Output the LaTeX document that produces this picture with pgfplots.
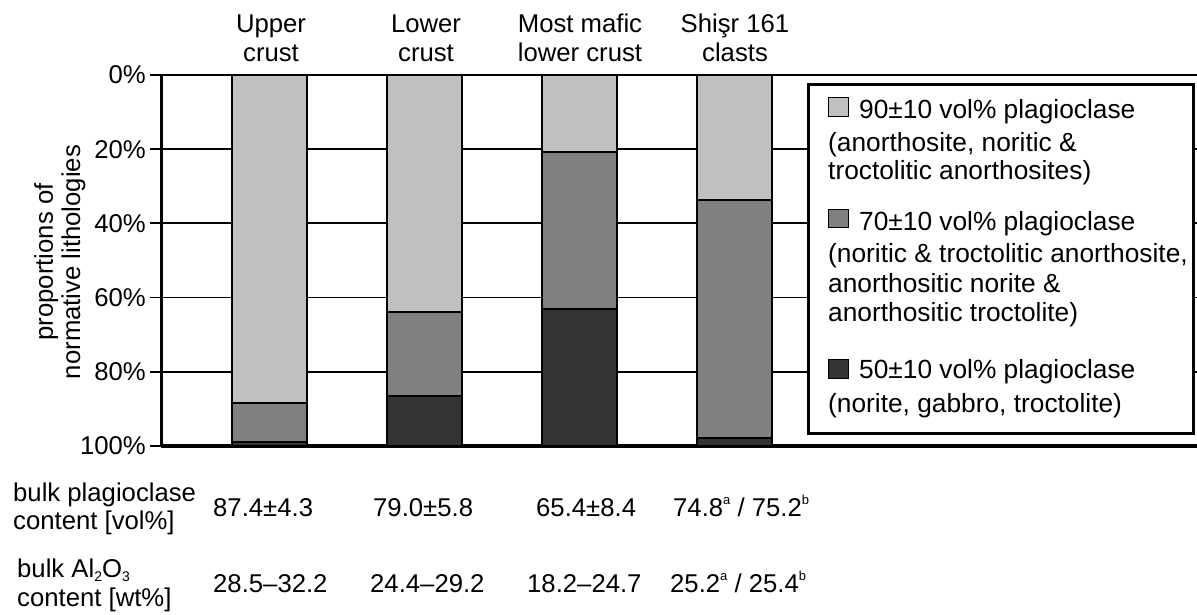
\documentclass[border=0pt]{standalone}
\usepackage{pgfplots}
\pgfplotsset{compat=1.18}
\usepackage{fontspec}
\setmainfont{Liberation Sans}
\definecolor{lightg}{RGB}{192,192,192}
\definecolor{midg}{RGB}{128,128,128}
\definecolor{darkg}{RGB}{51,51,51}
\newcommand\fs{\fontsize{25.7}{29}\selectfont}
\newcommand\fl{\fontsize{26.3}{30}\selectfont}
\newcommand\sps[1]{\raisebox{12pt}{\fontsize{13}{13}\selectfont #1}}
\newcommand\sbs[1]{\raisebox{-4pt}{\fontsize{14}{14}\selectfont #1}}
\begin{document}
\begin{tikzpicture}[x=1pt,y=1pt]
\begin{axis}[
  at={(161pt,169pt)}, anchor=south west,
  scale only axis, width=1036pt, height=371pt,
  xmin=-0.703, xmax=5.981, ymin=0, ymax=100, y dir=reverse,
  ybar stacked, bar width=75pt,
  xtick=\empty, ytick={0,20,...,100}, ytick pos=left,
  yticklabel={\pgfmathprintnumber[assume math mode=true]{\tick}\%},
  yticklabel style={font=\fs, inner sep=0pt, xshift=-4pt},
  tick align=outside, major tick length=11pt,
  every tick/.style={black, line width=1.8pt},
  ymajorgrids, major grid style={black, line width=1.8pt},
  axis line style={draw=none},
  clip=false,
]
\addplot[fill=lightg, draw=black, line width=2pt] coordinates {(0,88.5) (1,63.8) (2,20.8) (3,33.7)};
\addplot[fill=midg, draw=black, line width=2pt] coordinates {(0,10.5) (1,22.7) (2,42.2) (3,64.2)};
\addplot[fill=darkg, draw=black, line width=2pt] coordinates {(0,1.0) (1,13.5) (2,37.0) (3,2.1)};
\draw[line width=3pt] (axis cs:-0.703,-0.3) -- (axis cs:-0.703,100.4);
\draw[line width=3.2pt] (axis cs:-0.703,100) -- (axis cs:5.981,100);
\end{axis}
% y label
\node[rotate=90, anchor=base, inner sep=0pt, font=\fs] at (53,353) {proportions of};
\node[rotate=90, anchor=base, inner sep=0pt, font=\fs] at (80,353) {normative lithologies};
% top labels
\begin{scope}[every node/.style={anchor=base, inner sep=0pt, font=\fs}]
\node at (271,582) {Upper};
\node at (271,553) {crust};
\node at (426,582) {Lower};
\node at (426,553) {crust};
\node at (580,582) {Most mafic};
\node at (580,553) {lower crust};
\node at (735,582) {Shişr 161};
\node at (735,553) {clasts};
\end{scope}
% legend
\draw[line width=3pt, fill=white] (808,530) rectangle (1193,181);
\draw[line width=1pt, fill=lightg] (828,498) rectangle (848,517);
\draw[line width=1pt, fill=midg] (828,387) rectangle (848,405);
\draw[line width=1pt, fill=darkg] (828,236) rectangle (848,255);
\begin{scope}[every node/.style={anchor=base west, inner sep=0pt, font=\fl}]
\node at (859,496) {90±10 vol\% plagioclase};
\node at (828,463) {(anorthosite, noritic \&};
\node at (828,435) {troctolitic anorthosites)};
\node at (859,384) {70±10 vol\% plagioclase};
\node at (828,352) {(noritic \& troctolitic anorthosite,};
\node at (828,322) {anorthositic norite \&};
\node at (828,293) {anorthositic troctolite)};
\node at (859,236) {50±10 vol\% plagioclase};
\node at (828,202) {(norite, gabbro, troctolite)};
\end{scope}
% bottom rows
\begin{scope}[every node/.style={anchor=base west, inner sep=0pt, font=\fs}]
\node at (13,113) {bulk plagioclase};
\node at (13,85) {content [vol\%]};
\node at (213,98) {87.4±4.3};
\node at (373,98) {79.0±5.8};
\node at (536,98) {65.4±8.4};
\node at (673,98) {74.8\sps{a} / 75.2\sps{b}};
\node at (17,37) {bulk Al\sbs{2}O\sbs{3}};
\node at (17,8) {content [wt\%]};
\node at (213,22) {28.5--32.2};
\node at (370,22) {24.4--29.2};
\node at (527,22) {18.2--24.7};
\node at (670,22) {25.2\sps{a} / 25.4\sps{b}};
\end{scope}
\pgfresetboundingbox
\path[use as bounding box] (0,0) rectangle (1197,615);
\end{tikzpicture}
\end{document}
